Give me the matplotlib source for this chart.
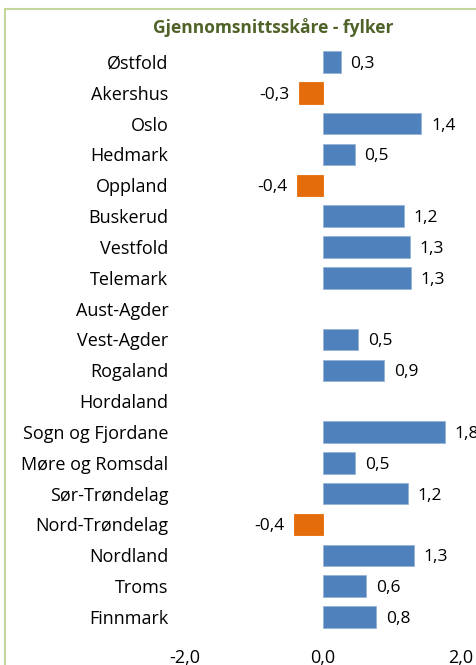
import numpy as np
import matplotlib
matplotlib.use('Agg')
import matplotlib.pyplot as plt
from matplotlib.lines import Line2D

plt.rcParams['font.family'] = ['Open Sans', 'DejaVu Sans']

fylker = ['Østfold', 'Akershus', 'Oslo', 'Hedmark', 'Oppland', 'Buskerud',
          'Vestfold', 'Telemark', 'Aust-Agder', 'Vest-Agder', 'Rogaland',
          'Hordaland', 'Sogn og Fjordane', 'Møre og Romsdal', 'Sør-Trøndelag',
          'Nord-Trøndelag', 'Nordland', 'Troms', 'Finnmark']
skaare = [0.26, -0.34, 1.43, 0.46, -0.37, 1.17, 1.26, 1.28, np.nan, 0.51,
          0.89, np.nan, 1.77, 0.47, 1.23, -0.42, 1.32, 0.63, 0.77]
x_ticks = [-2.0, 0.0, 2.0]

BLUE = '#4F81BD'
ORANGE = '#E46C0A'

fig = plt.figure(figsize=(4.77, 6.65), dpi=100)
fig.patch.set_facecolor('white')
ax = fig.add_axes([0.388, 0.049, 0.578, 0.881])

y = np.arange(len(fylker))
vals = np.array(skaare)
has = ~np.isnan(vals)
colors = [ORANGE if v < 0 else BLUE for v in vals[has]]
ax.barh(y[has], vals[has], height=0.7, color=colors,
        edgecolor=[('#95B3D7' if c == BLUE else ORANGE) for c in colors], linewidth=0.6)

for yi, v in zip(y[has], vals[has]):
    txt = f'{v:.1f}'.replace('.', ',')
    if v >= 0:
        ax.annotate(txt, xy=(v, yi), xytext=(7, 0), textcoords='offset points',
                    ha='left', va='center_baseline', fontsize=12.5, annotation_clip=False)
    else:
        ax.annotate(txt, xy=(v, yi), xytext=(-7, 0), textcoords='offset points',
                    ha='right', va='center_baseline', fontsize=12.5, annotation_clip=False)

ax.set_xlim(-2, 2)
ax.set_ylim(len(fylker) - 0.5, -0.5)
ax.set_yticks(y)
ax.set_yticklabels(fylker, fontsize=13)
ax.set_xticks(x_ticks)
ax.set_xticklabels([f'{t:.1f}'.replace('.', ',') for t in x_ticks], fontsize=13)
ax.tick_params(axis='y', length=0, pad=12)
ax.tick_params(axis='x', length=0, pad=12)
for sp in ax.spines.values():
    sp.set_visible(False)

fig.text(0.573, 0.958, 'Gjennomsnittsskåre - fylker', ha='center', va='center',
         fontsize=12.5, fontweight='bold', color='#4F6228')

# chart frame (left and top edges visible)
fig.add_artist(Line2D([5 / 477, 5 / 477], [0, 1 - 9 / 665], color='#C3D69B', lw=1.5))
fig.add_artist(Line2D([5 / 477, 1], [1 - 9 / 665, 1 - 9 / 665], color='#C3D69B', lw=1.5))

fig.savefig('out.png', dpi=100, facecolor='white')
